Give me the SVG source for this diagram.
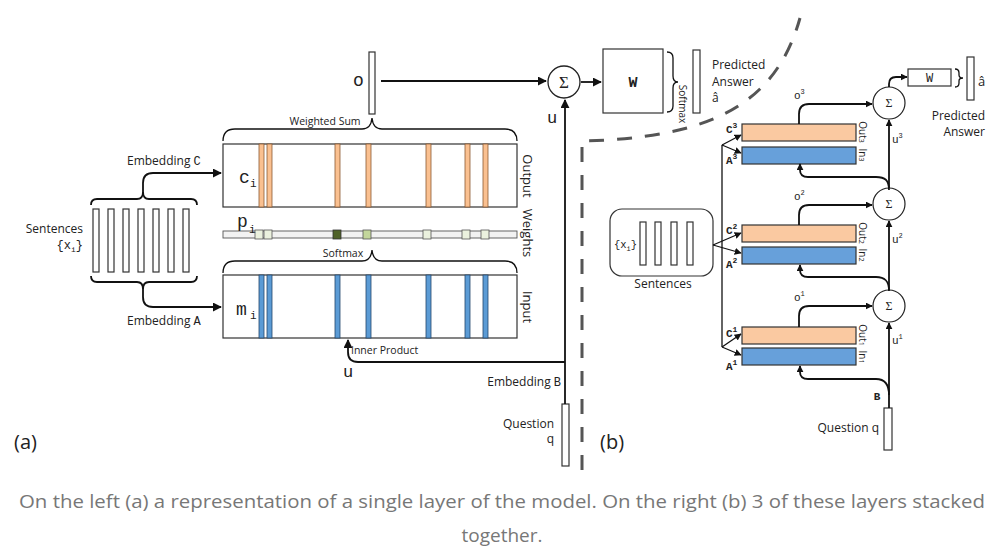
<svg xmlns="http://www.w3.org/2000/svg" width="1004" height="554" viewBox="0 0 1004 554">
<defs>
<marker id="arr" viewBox="0 0 10 10" refX="9" refY="5" markerWidth="9" markerHeight="9" markerUnits="userSpaceOnUse" orient="auto"><path d="M0,0 L10,5 L0,10 z" fill="#111"/></marker>
<marker id="arrs" viewBox="0 0 10 10" refX="9" refY="5" markerWidth="7" markerHeight="7" markerUnits="userSpaceOnUse" orient="auto"><path d="M0,0 L10,5 L0,10 z" fill="#111"/></marker>
</defs>
<style>
.sans{font-family:"Open Sans","Liberation Sans",sans-serif;fill:#222}
.mono{font-family:"Liberation Mono","DejaVu Sans Mono",monospace;fill:#222}
.serif{font-family:"Liberation Serif","DejaVu Serif",serif;fill:#222}
.ln{fill:none;stroke:#111;stroke-width:1.8}
.lt{fill:none;stroke:#111;stroke-width:1.3}
.box{fill:#fff;stroke:#333;stroke-width:1.2}
.ob{fill:#fac090;stroke:#8c5a32;stroke-width:0.8}
.ib{fill:#5b9bd5;stroke:#24476b;stroke-width:0.8}
.ob2{fill:#fac9a1;stroke:#333;stroke-width:1.2}
.ib2{fill:#67a0da;stroke:#333;stroke-width:1.2}
.sq{fill:#ebf1de;stroke:#555;stroke-width:0.8}
.dash{fill:none;stroke:#555;stroke-width:3;stroke-dasharray:15 13}
.cap{font-family:"Open Sans","Liberation Sans",sans-serif;fill:#777;font-size:19px}
</style>
<rect width="1004" height="554" fill="#fff"/>

<!-- (a) sentences -->
<g id="sentences-a">
<rect class="box" x="93" y="209" width="6" height="63"/>
<rect class="box" x="108" y="209" width="6" height="63"/>
<rect class="box" x="123" y="209" width="6" height="63"/>
<rect class="box" x="138" y="209" width="6" height="63"/>
<rect class="box" x="153" y="209" width="6" height="63"/>
<rect class="box" x="168" y="209" width="6" height="63"/>
<rect class="box" x="183" y="209" width="6" height="63"/>
<text class="sans" x="83" y="233" font-size="12" text-anchor="end">Sentences</text>
<text class="mono" x="83" y="249" font-size="12" text-anchor="end">{x<tspan font-size="8" dy="3">i</tspan><tspan dy="-3">}</tspan></text>
</g>

<!-- (a) output memory -->
<g id="output-memory">
<rect class="box" x="223" y="144" width="294" height="63"/>
<rect class="ob" x="259" y="144" width="5" height="63"/>
<rect class="ob" x="267" y="144" width="5" height="63"/>
<rect class="ob" x="335" y="144" width="5" height="63"/>
<rect class="ob" x="366" y="144" width="5" height="63"/>
<rect class="ob" x="426" y="144" width="5" height="63"/>
<rect class="ob" x="465" y="144" width="5" height="63"/>
<rect class="ob" x="483" y="144" width="5" height="63"/>
<text class="mono" x="239" y="183" font-size="18">c</text>
<text class="mono" x="250" y="187" font-size="11">i</text>
<text class="sans" transform="translate(523,176) rotate(90)" font-size="13" text-anchor="middle">Output</text>
</g>

<!-- (a) weights -->
<g id="weights">
<rect x="223" y="231" width="294" height="7" fill="#f2f2f2" stroke="#555" stroke-width="0.9"/>
<rect class="sq" x="255" y="230" width="8" height="9"/>
<rect class="sq" x="264" y="230" width="8" height="9"/>
<rect x="333" y="230" width="8" height="9" fill="#4f6228" stroke="#333" stroke-width="0.8"/>
<rect x="363" y="230" width="8" height="9" fill="#c3d69b" stroke="#555" stroke-width="0.8"/>
<rect class="sq" x="423" y="230" width="8" height="9"/>
<rect class="sq" x="462" y="230" width="8" height="9"/>
<rect class="sq" x="481" y="230" width="8" height="9"/>
<text class="mono" x="237" y="227" font-size="18">p</text>
<text class="mono" x="249" y="233" font-size="11">i</text>
<text class="sans" transform="translate(523,233) rotate(90)" font-size="13" text-anchor="middle">Weights</text>
</g>

<!-- (a) input memory -->
<g id="input-memory">
<rect class="box" x="223" y="275" width="294" height="63"/>
<rect class="ib" x="259" y="275" width="5" height="63"/>
<rect class="ib" x="267" y="275" width="5" height="63"/>
<rect class="ib" x="335" y="275" width="5" height="63"/>
<rect class="ib" x="366" y="275" width="5" height="63"/>
<rect class="ib" x="426" y="275" width="5" height="63"/>
<rect class="ib" x="465" y="275" width="5" height="63"/>
<rect class="ib" x="483" y="275" width="5" height="63"/>
<text class="mono" x="236" y="315" font-size="18">m</text>
<text class="mono" x="250" y="319" font-size="11">i</text>
<text class="sans" transform="translate(523,307) rotate(90)" font-size="13" text-anchor="middle">Input</text>
</g>

<!-- (a) o vector -->
<g id="o-vector">
<rect class="box" x="369" y="52" width="6" height="62"/>
<text class="mono" x="353" y="86" font-size="18">o</text>
</g>

<g id="sum-a">
<circle cx="564" cy="82" r="16" fill="#fff" stroke="#222" stroke-width="1.3"/>
<text class="serif" x="564" y="88" font-size="17" text-anchor="middle">Σ</text>
</g>

<g id="w-a">
<rect class="box" x="603" y="49" width="60" height="64"/>
<text class="mono" x="633" y="87" font-size="15" font-weight="bold" text-anchor="middle">W</text>
<text class="sans" transform="translate(679,104) rotate(90)" font-size="10" text-anchor="middle">Softmax</text>
</g>

<g id="answer-a">
<rect class="box" x="693" y="50" width="7" height="63"/>
<text class="sans" x="712" y="69" font-size="12">Predicted</text>
<text class="sans" x="712" y="86" font-size="12">Answer</text>
<text class="sans" x="712" y="102" font-size="12">â</text>
</g>

<g id="question-a">
<rect class="box" x="562" y="404" width="7" height="62"/>
<text class="sans" x="554" y="428" font-size="12" text-anchor="end">Question</text>
<text class="sans" x="554" y="443" font-size="12" text-anchor="end">q</text>
</g>

<g id="labels-a">
<text class="sans" x="127" y="165" font-size="12">Embedding <tspan class="mono">C</tspan></text>
<text class="sans" x="127" y="325" font-size="12">Embedding <tspan class="mono">A</tspan></text>
<text class="sans" x="561" y="386" font-size="12" text-anchor="end">Embedding <tspan class="mono">B</tspan></text>
<text class="sans" x="325" y="125" font-size="10.5" text-anchor="middle">Weighted Sum</text>
<text class="sans" x="343" y="257" font-size="10.5" text-anchor="middle">Softmax</text>
<text class="sans" x="351" y="354" font-size="10.5">Inner Product</text>
<text class="mono" x="343" y="377" font-size="17">u</text>
<text class="mono" x="547" y="123" font-size="17">u</text>
<text class="sans" x="14" y="449" font-size="20">(a)</text>
<text class="sans" x="600" y="449" font-size="20">(b)</text>
</g>

<!-- (b) sentences -->
<g id="sentences-b">
<rect class="box" x="610" y="209" width="103" height="67" rx="12"/>
<rect class="box" x="640" y="222" width="6" height="43"/>
<rect class="box" x="655" y="222" width="6" height="43"/>
<rect class="box" x="671" y="222" width="6" height="43"/>
<rect class="box" x="687" y="222" width="6" height="43"/>
<text class="mono" x="614" y="248" font-size="10.5">{x<tspan font-size="7" dy="3">i</tspan><tspan dy="-3">}</tspan></text>
<text class="sans" x="663" y="288" font-size="12" text-anchor="middle">Sentences</text>
</g>

<g id="layer3">
<rect class="ob2" x="742" y="124" width="114" height="17"/>
<rect class="ib2" x="742" y="147" width="114" height="17"/>
<text class="mono" x="726" y="133" font-size="11" font-weight="bold">C<tspan font-size="8" dy="-5">3</tspan></text>
<text class="mono" x="726" y="164" font-size="11" font-weight="bold">A<tspan font-size="8" dy="-5">3</tspan></text>
<text class="sans" transform="translate(859,132) rotate(90)" font-size="10" text-anchor="middle">Out<tspan font-size="7">3</tspan></text>
<text class="sans" transform="translate(859,155) rotate(90)" font-size="10" text-anchor="middle">In<tspan font-size="7">3</tspan></text>
</g>

<g id="layer2">
<rect class="ob2" x="742" y="225" width="114" height="17"/>
<rect class="ib2" x="742" y="247" width="114" height="17"/>
<text class="mono" x="726" y="234" font-size="11" font-weight="bold">C<tspan font-size="8" dy="-5">2</tspan></text>
<text class="mono" x="726" y="268" font-size="11" font-weight="bold">A<tspan font-size="8" dy="-5">2</tspan></text>
<text class="sans" transform="translate(859,233) rotate(90)" font-size="10" text-anchor="middle">Out<tspan font-size="7">2</tspan></text>
<text class="sans" transform="translate(859,255) rotate(90)" font-size="10" text-anchor="middle">In<tspan font-size="7">2</tspan></text>
</g>

<g id="layer1">
<rect class="ob2" x="742" y="327" width="114" height="17"/>
<rect class="ib2" x="742" y="348" width="114" height="17"/>
<text class="mono" x="726" y="337" font-size="11" font-weight="bold">C<tspan font-size="8" dy="-5">1</tspan></text>
<text class="mono" x="726" y="370" font-size="11" font-weight="bold">A<tspan font-size="8" dy="-5">1</tspan></text>
<text class="sans" transform="translate(859,335) rotate(90)" font-size="10" text-anchor="middle">Out<tspan font-size="7">1</tspan></text>
<text class="sans" transform="translate(859,357) rotate(90)" font-size="10" text-anchor="middle">In<tspan font-size="7">1</tspan></text>
</g>

<g id="sum3">
<circle cx="889" cy="103" r="16" fill="#fff" stroke="#222" stroke-width="1.2"/>
<text class="serif" x="889" y="107" font-size="12" text-anchor="middle">Σ</text>
</g>
<g id="sum2">
<circle cx="889" cy="204" r="16" fill="#fff" stroke="#222" stroke-width="1.2"/>
<text class="serif" x="889" y="208" font-size="12" text-anchor="middle">Σ</text>
</g>
<g id="sum1">
<circle cx="889" cy="306" r="16" fill="#fff" stroke="#222" stroke-width="1.2"/>
<text class="serif" x="889" y="310" font-size="12" text-anchor="middle">Σ</text>
</g>

<g id="w-b">
<rect class="box" x="908" y="69" width="43" height="17"/>
<text class="mono" x="929.5" y="82" font-size="12" text-anchor="middle">W</text>
</g>

<g id="answer-b">
<rect class="box" x="967" y="57" width="7" height="43"/>
<text class="sans" x="978" y="86" font-size="13">â</text>
<text class="sans" x="985" y="120" font-size="12" text-anchor="end">Predicted</text>
<text class="sans" x="985" y="136" font-size="12" text-anchor="end">Answer</text>
</g>

<g id="question-b">
<rect class="box" x="884" y="408" width="8" height="42"/>
<text class="sans" x="879" y="432" font-size="12" text-anchor="end">Question q</text>
<text class="mono" x="877" y="400" font-size="11" font-weight="bold" text-anchor="middle">B</text>
</g>

<g id="labels-b">
<text class="mono" x="794" y="99" font-size="11">o<tspan font-size="7" dy="-5">3</tspan></text>
<text class="mono" x="794" y="200" font-size="11">o<tspan font-size="7" dy="-5">2</tspan></text>
<text class="mono" x="794" y="301" font-size="11">o<tspan font-size="7" dy="-5">1</tspan></text>
<text class="mono" x="892" y="143" font-size="11">u<tspan font-size="7" dy="-5">3</tspan></text>
<text class="mono" x="892" y="243" font-size="11">u<tspan font-size="7" dy="-5">2</tspan></text>
<text class="mono" x="892" y="344" font-size="11">u<tspan font-size="7" dy="-5">1</tspan></text>
</g>

<!-- connectors -->
<g id="connectors">
<path class="ln" d="M91,205 Q91,199 97,199 L137,199 Q143,199 143,192 L143,183 Q143,173 153,173 L221,173" marker-end="url(#arr)"/>
<path class="ln" d="M197,205 Q197,199 191,199 L149,199 Q143,199 143,192"/>
<path class="ln" d="M91,276 Q91,282 97,282 L137,282 Q143,282 143,289 L143,297 Q143,307 153,307 L221,307" marker-end="url(#arr)"/>
<path class="ln" d="M197,276 Q197,282 191,282 L149,282 Q143,282 143,289"/>
<path class="lt" d="M223,141 Q223,129 235,129 L362,129 Q371,129 372,118 Q373,129 382,129 L505,129 Q517,129 517,141"/>
<path class="lt" d="M223,273 Q223,261 235,261 L362,261 Q371,261 372,250 Q373,261 382,261 L505,261 Q517,261 517,273"/>
<path class="lt" d="M667,52 Q673,52 673,58 L673,76 Q673,82 678,82 Q673,82 673,88 L673,106 Q673,112 667,112"/>
<path class="ln" d="M381,81 L546,81" marker-end="url(#arr)"/>
<path class="ln" d="M581,82 L601,82" marker-end="url(#arr)"/>
<path class="ln" d="M565,404 L565,100" marker-end="url(#arr)"/>
<path class="ln" d="M565,362 L358,362 Q348,362 348,352 L348,340" marker-end="url(#arr)"/>
<path class="dash" d="M582,470 L582,141 C705,138 775,108 800,18"/>
<!-- (b) -->
<path class="lt" d="M722,145 L722,347"/>
<path class="lt" d="M722,145 L741,135" marker-end="url(#arrs)"/>
<path class="lt" d="M722,145 L741,153" marker-end="url(#arrs)"/>
<path class="lt" d="M713,245 L741,233" marker-end="url(#arrs)"/>
<path class="lt" d="M713,245 L741,253" marker-end="url(#arrs)"/>
<path class="lt" d="M722,347 L741,334" marker-end="url(#arrs)"/>
<path class="lt" d="M722,347 L741,355" marker-end="url(#arrs)"/>
<path class="ln" d="M799,124 L799,114 Q799,104 809,104 L872,104" marker-end="url(#arrs)"/>
<path class="ln" d="M799,225 L799,215 Q799,205 809,205 L872,205" marker-end="url(#arrs)"/>
<path class="ln" d="M799,327 L799,316 Q799,306 809,306 L872,306" marker-end="url(#arrs)"/>
<path class="ln" d="M889,87 L889,84 Q889,77 896,77 L907,77" marker-end="url(#arrs)"/>
<path class="lt" d="M955,69 Q959,69 959,73 L959,75 Q959,78 963,78 Q959,78 959,81 L959,83 Q959,87 955,87"/>
<path class="ln" d="M889,188 L889,120" marker-end="url(#arrs)"/>
<path class="ln" d="M889,190 C889,180 885,177 876,177 L808,177 Q800,177 800,170 L800,164" marker-end="url(#arrs)"/>
<path class="ln" d="M889,290 L889,221" marker-end="url(#arrs)"/>
<path class="ln" d="M889,291 C889,281 885,277 876,277 L808,277 Q800,277 800,270 L800,265" marker-end="url(#arrs)"/>
<path class="ln" d="M889,408 L889,323" marker-end="url(#arrs)"/>
<path class="ln" d="M889,395 C889,384 885,379 876,379 L808,379 Q800,379 800,372 L800,366" marker-end="url(#arrs)"/>
</g>

<g id="caption">
<text class="cap" x="502" y="508" text-anchor="middle" textLength="966" lengthAdjust="spacingAndGlyphs">On the left (a) a representation of a single layer of the model. On the right (b) 3 of these layers stacked</text>
<text class="cap" x="502" y="542" text-anchor="middle">together.</text>
</g>
</svg>
